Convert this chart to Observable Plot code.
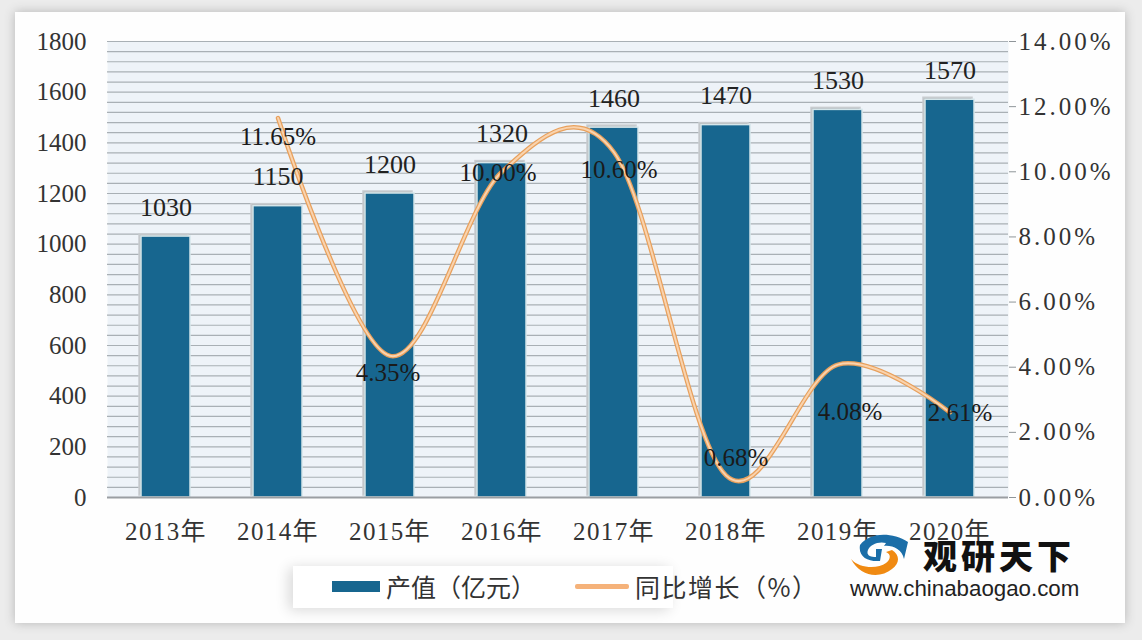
<!DOCTYPE html>
<html><head><meta charset="utf-8">
<script src="https://cdn.jsdelivr.net/npm/d3@7"></script>
<script src="https://cdn.jsdelivr.net/npm/@observablehq/plot@0.6"></script>
<style>
html,body{margin:0;padding:0;width:1142px;height:640px;overflow:hidden;background:#ececec}
#card{position:absolute;left:15px;top:12px;width:1110px;height:611px;background:#fefefe;box-shadow:0 0 10px #b5b5b5}
#chart{position:absolute;left:0;top:0}
#chart svg{background:transparent;display:block}
#chart g[aria-label="x-axis tick label"] text{letter-spacing:1.4px}
#chart g[aria-label="y-axis tick label"][text-anchor="start"] text{letter-spacing:3px}
#legend{position:absolute;left:293px;top:566px;width:380px;height:42px;background:#fff;box-shadow:-4px 2px 14px #d8d8d8;font:25px/36px "Noto Sans CJK SC";color:#333}
#legend span{position:absolute;white-space:nowrap;top:2px}
#legend i{position:absolute;display:block}
#mark{position:absolute;left:850px;top:533px;width:232px;height:68px}
#mark b{position:absolute;left:73px;top:0;font:900 34px/44px "Noto Sans CJK SC";letter-spacing:4px;color:#111;white-space:nowrap}
#mark span{position:absolute;left:0;top:43px;font:22.3px/26px "Liberation Sans";color:#222;white-space:nowrap}
#mark svg{position:absolute;left:0;top:0}
</style></head><body>
<div id="card"></div>
<div id="chart"></div>
<div id="legend">
  <i style="left:39px;top:15px;width:48px;height:11px;background:#17668f"></i>
  <span style="left:93px">产值（亿元）</span>
  <i style="left:282px;top:18px;width:54px;height:5px;background:#f5b27a;border-radius:2px"></i>
  <span style="left:342px;letter-spacing:1.5px">同比增长（%）</span>
</div>
<div id="mark">
  <svg width="60" height="46" viewBox="0 0 60 46">
    <path d="M10 12C20 -1 42 -1 58 9L54 26C52 16 42 12 34 13L36 10C28 8 20 12 18 17C16 22 20 24 26 24L26 16L32 16L30 28C18 29 8 24 10 12Z" fill="#1b6ea8"/>
    <path d="M1 26C10 36 28 36 36 30C41 26 41 21 36 19L42 17C50 22 50 30 42 36C30 46 10 44 1 26Z" fill="#f08a12"/>
  </svg>
  <b>观研天下</b>
  <span>www.chinabaogao.com</span>
</div>
<script>
const years = ["2013年","2014年","2015年","2016年","2017年","2018年","2019年","2020年"];
const output = [1030,1150,1200,1320,1460,1470,1530,1570];
const growthYears = ["2014年","2015年","2016年","2017年","2018年","2019年","2020年"];
const growth = [11.65,4.35,10.00,10.60,0.68,4.08,2.61];
const growthLabels = ["11.65%","4.35%","10.00%","10.60%","0.68%","4.08%","2.61%"];
const leftTicks = [0,200,400,600,800,1000,1200,1400,1600,1800];
const rightTicks = [0,2,4,6,8,10,12,14];
const rightTickLabels = ["0.00%","2.00%","4.00%","6.00%","8.00%","10.00%","12.00%","14.00%"];

const toLeft = v => v * 1800 / 14;
const bars = years.map((y,i) => ({year:y, value:output[i]}));
const line = growthYears.map((y,i) => ({year:y, value:toLeft(growth[i]), label:growthLabels[i]}));
const serif = '"Liberation Serif","Noto Sans CJK SC",serif';

// hand-placed label offsets, in pixels, as in the reference
const labelOffsets = [[0,19],[-2,17],[-4,1],[5,18],[10,-17],[12,47],[10,1]];

const plot = Plot.plot({
  width:1142, height:640,
  marginLeft:107, marginRight:134, marginTop:41, marginBottom:143,
  style:{background:"transparent",fontFamily:serif},
  x:{domain:years, paddingInner:0.56, paddingOuter:0.28, label:null},
  y:{domain:[0,1800], label:null},
  marks:[
    Plot.frame({fill:"#eef3f8",stroke:null}),
    Plot.ruleY(d3.range(0,1801,40),{stroke:"#a9b0b5",strokeWidth:1.2}),
    Plot.barY(bars,{x:"year",y:"value",fill:"#b4b8bb",dx:-2,dy:-2,stroke:"#c8cccf",strokeWidth:1.5}),
    Plot.barY(bars,{x:"year",y:"value",fill:"#17668f",stroke:"#d5e6ea",strokeWidth:1.5}),
    Plot.ruleY([0],{stroke:"#9a9ea2",strokeWidth:2}),
    Plot.line(line,{x:"year",y:"value",curve:"cardinal",tension:0,stroke:"#e8a05c",strokeWidth:4.5,strokeLinecap:"round"}),
    Plot.line(line,{x:"year",y:"value",curve:"cardinal",tension:0,stroke:"#f9d3ae",strokeWidth:2,strokeLinecap:"round"}),
    Plot.text(bars,{x:"year",y:"value",text:d=>String(d.value),dy:-29,fontSize:26,fill:"#222",fontFamily:serif}),
    ...line.map((d,i)=>Plot.text([d],{x:"year",y:"value",text:"label",dx:labelOffsets[i][0],dy:labelOffsets[i][1],fontSize:25,fill:"#1a1a1a",fontFamily:serif,style:{letterSpacing:"2.4px"}})),
    Plot.axisX({tickSize:0,tickPadding:25,fontSize:25,fill:"#333",label:null,fontFamily:serif}),
    Plot.axisY(leftTicks,{anchor:"left",tickSize:0,tickPadding:21,fontSize:25,fill:"#333",label:null,fontFamily:serif,tickFormat:d=>String(d)}),
    Plot.axisY(rightTicks.map(toLeft),{anchor:"right",tickSize:7,tickPadding:3,fontSize:25,fill:"#333",stroke:"#8f9599",label:null,fontFamily:serif,
      tickFormat:(d,i)=>rightTickLabels[i]})
  ]
});
document.getElementById("chart").appendChild(plot);
</script>
</body></html>
